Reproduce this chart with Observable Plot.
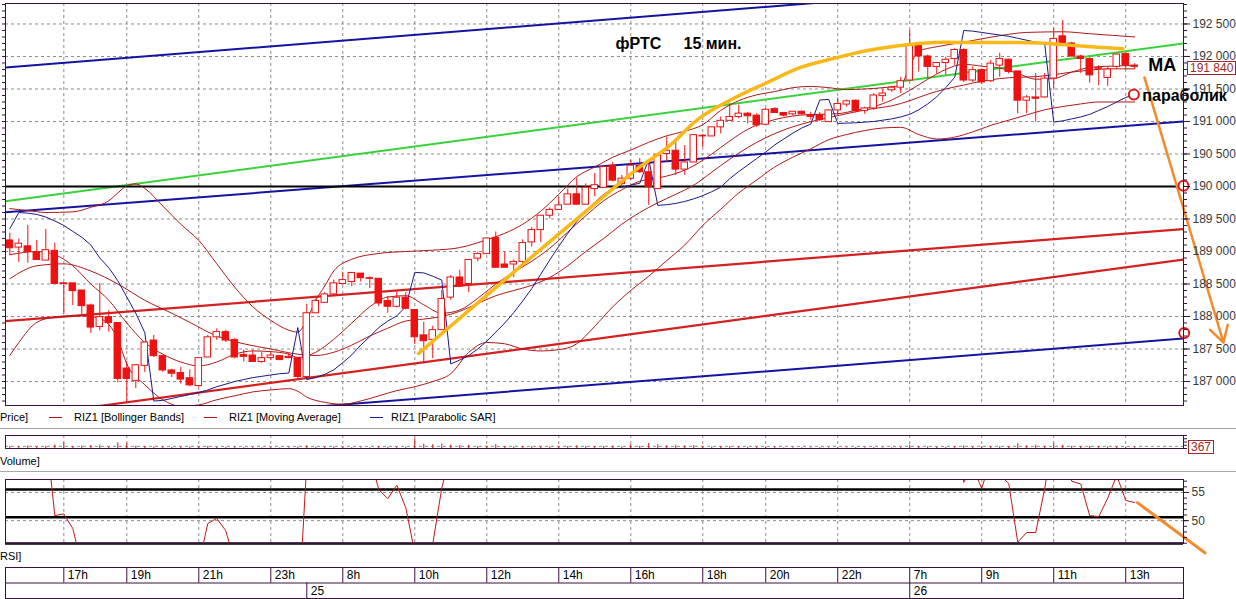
<!DOCTYPE html>
<html><head><meta charset="utf-8">
<script src="https://cdn.jsdelivr.net/npm/d3@7"></script>
<script src="https://cdn.jsdelivr.net/npm/@observablehq/plot@0.6"></script>
<style>
body{margin:0;background:#fff;}
#chart{position:relative;width:1236px;height:599px;overflow:hidden;background:#fff;font-family:"Liberation Sans",Arial,sans-serif;}
#chart svg{position:absolute;left:0;}
.lbl{position:absolute;font-size:11px;color:#000;white-space:nowrap;line-height:14px;}
.dash{position:absolute;height:1px;width:13px;}
.sep{position:absolute;left:0;width:1236px;height:1px;background:#a8a8a8;border-bottom:1px solid #fff;}
.box{position:absolute;font-size:12px;line-height:12px;color:#a02828;border:1px solid #a02828;padding:0 2px;background:#fff;white-space:nowrap;}
</style></head>
<body><div id="chart"></div>
<script>
// ---------- DATA ----------
const opens = [189170,189060,189080,188990,188860,189010,188510,188510,188400,188170,
187840,187990,187900,187200,187010,187240,187630,187390,187170,187130,
187050,186930,187370,187680,187760,187640,187410,187400,187300,187360,
187390,187380,187360,187070,188050,188210,188340,188500,188530,188660,
188590,188580,188240,188150,188290,188100,187710,187640,187790,188290,
188600,188500,188890,188960,189210,188800,188800,188840,189140,189330,
189550,189640,189720,189880,189720,189960,189980,190320,190040,190120,
190320,190220,189960,190500,190550,190260,190370,190780,190770,190910,
191010,191070,191120,191090,190950,191190,191130,191110,191150,191100,
191100,190990,191170,191260,191320,191160,191200,191390,191480,191520,
191630,192180,192000,191840,191900,191960,192100,191630,191790,191620,
191860,191950,191770,191320,191370,191370,191660,192310,192200,192000,
191960,191820,191670,191840,192040,191860];
const highs = [189280,189190,189400,189170,189340,189130,188520,188510,188400,188190,
188510,188090,187900,187310,187250,187600,187710,187390,187190,187220,
187180,187370,187710,187810,187790,187660,187480,187480,187450,187440,
187400,187430,187370,188190,188270,188370,188560,188680,188670,188660,
188610,188580,188310,188400,188370,188100,187910,187850,188400,188630,
188710,188870,188990,189200,189300,188990,188870,189180,189370,189550,
189670,189830,189960,190130,190040,190200,190320,190370,190170,190400,
190430,190400,190480,190760,190710,190630,190790,190800,190910,191070,
191270,191250,191140,191120,191200,191210,191140,191150,191160,191140,
191140,191180,191360,191330,191330,191220,191430,191490,191540,191680,
192400,192200,192020,191910,191990,192120,192120,191840,191810,191940,
192050,191960,191770,191400,191740,191740,192430,192550,192220,192020,
191990,191860,191840,192040,192050,191890];
const lows = [188940,188830,188820,188860,188860,188500,188030,188170,188030,187740,
187780,187760,186980,186680,186890,187140,187370,187140,187060,186960,
186920,186910,187370,187630,187600,187350,187300,187300,187280,187320,
187320,187350,187030,187060,188050,188210,188320,188500,188460,188530,
188430,188150,188050,188130,188100,187570,187270,187350,187790,188250,
188460,188370,188840,188960,188750,188750,188600,188760,189070,189140,
189500,189630,189710,189720,189720,189840,189980,190070,189990,190090,
190200,189710,189960,190370,190170,190170,190370,190600,190770,190810,
191000,191040,190960,190910,190940,191130,191070,191090,191100,191020,
191000,190990,191080,191220,191130,191110,191170,191300,191450,191430,
191620,191760,191660,191730,191710,191860,191600,191600,191570,191600,
191680,191730,191120,191120,190990,191360,191500,192190,191990,191740,
191590,191550,191540,191800,191800,191800];
const closes = [189050,189120,188990,188870,189020,188500,188500,188390,188160,187830,
187990,187900,187040,187040,187250,187600,187390,187170,187120,187030,
186940,187360,187680,187760,187630,187370,187380,187300,187360,187400,
187330,187360,187070,188050,188240,188340,188510,188560,188670,188590,
188580,188200,188150,188290,188120,187680,187620,187790,188270,188600,
188460,188870,188960,189200,188750,188750,188840,189130,189330,189550,
189640,189710,189880,189720,189980,190020,190300,190090,190120,190320,
190220,189990,190480,190550,190260,190370,190790,190770,190910,191010,
191070,191120,191080,190940,191180,191130,191090,191150,191110,191070,
191020,191170,191270,191310,191160,191200,191400,191430,191520,191620,
192190,192000,191840,191900,191950,192100,191630,191790,191600,191890,
191960,191760,191320,191370,191350,191660,192270,192200,192000,191960,
191710,191810,191800,192030,191860,191840];
const volumes = [900,700,1200,800,1000,1600,2600,900,1100,1300,
1500,800,2600,2400,1000,900,700,600,500,600,
700,800,900,500,500,600,400,400,300,300,
300,300,700,1200,600,500,700,500,400,300,
300,700,600,500,600,4500,2000,1800,2000,1600,
1400,1500,900,1000,1800,800,700,900,800,900,
700,800,900,1200,900,800,1000,1100,700,1800,
1000,2400,1700,1200,1500,1200,1400,900,700,900,
800,700,600,700,800,400,300,300,300,300,
400,300,400,300,400,300,400,300,300,400,
1500,900,800,500,500,700,1200,600,900,700,
800,900,2200,1200,1500,1000,2300,1500,1000,900,
1000,800,700,800,600,367];
const rsiValues = [62,63,62,60,66,50.9,51.2,48.6,42,38,
42,40,30,30,34,40,37,34,33,32,
31,42.3,49.5,50.4,48.2,42.5,42.5,41,43,44,
43,43.5,31.7,60.2,64,66,69,70,72,68,
61.5,55.5,53.9,56.3,52.3,44.3,43,45.9,55.8,62,
59,65,67,70,61,61,62,66,69,72,
73,74,75,70,72,73,75,70,70,72,
70,63,70,71,65,67,72,71,73,75,
75,76,73,69,72,71,70,71,70,68,
67,70,72,73,69,70,73,74,75,76,
82,75,70,71,71,73,56.8,59.5,55.7,61,
58.1,56.6,46.2,47.9,47.9,55.7,66,62,57,56.5,
50.9,50.7,54,58,53.6,53.2];
const sarValues = [189350,189600,189590,189570,189530,189470,189400,189310,189220,189100,
188900,188750,188550,188300,188050,187750,186700,186710,186740,186770,
186800,186830,186870,186920,186960,187000,187030,187060,187080,187100,
187120,187130,187830,187030,187060,187110,187180,187290,187410,187560,
187690,187830,187930,188010,188150,188680,188670,188620,188560,187270,
187330,187400,187500,187620,187760,187900,188060,188240,188430,188650,
188870,189080,189280,189460,189620,189760,189880,189970,189990,190020,
190050,190420,189710,189720,189740,189770,189810,189860,189920,189990,
190120,190230,190330,190430,190530,190640,190730,190820,190900,190960,
191330,191340,190970,190975,190980,190990,191000,191020,191040,191070,
191110,191180,191270,191380,191520,191680,192400,192390,192370,192350,
192330,192310,192280,192250,192220,192190,190990,191010,191040,191070,
191110,191170,191230,191300,191370,191410];

// Bollinger bands and moving average, read at sample candles: [candle index, price]
const bbUpper = [[0,189660],[2,189630],[4,189600],[7,189610],[9,189680],[11,189780],[12,189900],[13,190010],[14,190040],[15,189970],[17,189700],[19,189420],[21,189170],[23,188810],[25,188450],[27,188150],[29,187940],[31,187790],[32,187760],[33,187950],[34,188250],[35,188470],[36,188700],[38,188880],[41,188970],[44,189000],[47,189020],[50,189060],[53,189180],[55,189280],[57,189420],[59,189620],[61,189880],[63,190150],[65,190300],[67,190450],[69,190560],[71,190680],[73,190780],[75,190850],[77,190950],[79,191170],[81,191320],[83,191410],[85,191460],[87,191520],[89,191540],[91,191520],[93,191490],[95,191500],[97,191520],[99,191560],[100,191850],[101,192080],[103,192150],[106,192220],[110,192320],[113,192370],[117,192380],[120,192350],[125,192300]];
const bbMiddle = [[0,188580],[3,188780],[6,188810],[9,188700],[12,188500],[15,188250],[18,188050],[20,187910],[23,187700],[26,187580],[29,187500],[32,187420],[34,187400],[36,187450],[38,187560],[40,187700],[42,187820],[44,187930],[46,187960],[48,188000],[50,188080],[52,188200],[54,188320],[56,188400],[58,188480],[60,188600],[62,188780],[64,189000],[66,189200],[68,189420],[70,189600],[72,189750],[74,189880],[76,190020],[78,190220],[80,190420],[82,190600],[84,190750],[86,190870],[88,190960],[90,191030],[92,191090],[94,191150],[96,191200],[98,191240],[100,191320],[102,191420],[104,191500],[106,191560],[108,191620],[110,191660],[112,191680],[114,191690],[116,191720],[118,191760],[120,191790],[122,191810],[125,191810]];
const bbLower = [[0,187400],[1,187600],[3,187910],[5,187990],[8,188010],[10,187970],[12,187650],[13,187270],[15,186950],[17,186720],[19,186620],[21,186640],[23,186720],[25,186780],[27,186840],[29,186870],[31,186890],[32,186850],[33,186760],[35,186680],[37,186650],[39,186700],[41,186780],[43,186860],[45,186920],[47,187000],[49,187120],[51,187450],[53,187600],[55,187580],[57,187500],[59,187470],[61,187490],[63,187580],[65,187850],[67,188150],[69,188400],[71,188620],[73,188860],[75,189100],[77,189400],[79,189650],[81,189900],[83,190100],[85,190300],[87,190450],[89,190580],[91,190720],[93,190800],[95,190860],[97,190900],[99,190910],[101,190800],[103,190730],[105,190760],[107,190840],[109,190940],[111,191020],[113,191100],[115,191180],[117,191230],[119,191270],[121,191300],[123,191300],[125,191300]];
const movingAverage = [[0,188950],[3,189000],[5,188950],[7,188780],[9,188500],[11,188250],[13,187900],[15,187600],[17,187420],[19,187300],[21,187240],[23,187300],[25,187420],[27,187470],[29,187460],[31,187420],[32,187370],[34,187450],[36,187650],[38,187900],[40,188150],[42,188300],[44,188320],[46,188180],[48,188050],[50,188100],[52,188280],[54,188500],[56,188680],[58,188850],[60,189050],[62,189300],[64,189550],[66,189780],[68,189950],[70,190080],[72,190130],[74,190200],[76,190320],[78,190500],[80,190700],[82,190880],[84,190990],[86,191060],[88,191100],[90,191110],[92,191120],[94,191170],[96,191230],[98,191330],[100,191480],[102,191650],[104,191800],[106,191880],[108,191850],[110,191820],[112,191740],[114,191650],[116,191660],[118,191760],[120,191830],[122,191850],[125,191860]];

// drawn trend lines: [candle index, price] end points
const blueUpperChannel = [[-0.48,191831],[130.42,193275]];
const blueMiddleChannel = [[-0.48,189605],[130.42,191000]];
const blueLowerChannel = [[-0.48,186238],[130.42,187661]];
const greenLine = [[-0.48,189774],[130.42,192200]];
const redUpperLine = [[-0.48,187929],[130.42,189346]];
const redLowerLine = [[-0.48,186428],[130.42,188877]];
const keyLevels = [190000];
const yellowArc = [[45.41,187431],[56.74,188769],[67.86,190062],[70.08,190308],[73.08,190600],[76.74,191062],[80.41,191354],[84.19,191600],[87.86,191831],[91.52,191969],[95.3,192092],[98.97,192169],[102.63,192215],[106.41,192215],[110.08,192215],[114.5,192208],[119,192162],[123.7,192118]];
const forecastArrow = [[126.08,191677],[134.86,187600]];
const markedPoints = [[124.9,191415],[130.42,190010],[130.5,187745]];
const titleText = [[67.3,192200,"фРТС\u00a0\u00a0\u00a0\u00a0\u00a015 мин."]];
const maText = [[126.5,191862,"MA"]];
const sarText = [[125.85,191400,"параболик"]];
const rsiArrow = [[125.3,53.2],[132.8,44.3]];
const rsiLevels = [55.54,50.59,45.95];
const rsiGrid = [50,55];

// time axis
const hourIdx = [6,13,21,29,37,45,53,61,69,77,84,92,100,108,116,124];
const hourLabels = ["17h","19h","21h","23h","8h","10h","12h","14h","16h","18h","20h","22h","7h","9h","11h","13h"];
const dayIdx = [33,100];
const dayLabels = ["25","26"];
const priceTicks = d3.range(187000, 192501, 500);
const priceMinorTicks = d3.range(186700, 192801, 100);
const lastPrice = "191 840";
const lastVolume = "367";

// ---------- BUILD ----------
const candles = opens.map((o, i) => ({i, open: o, high: highs[i], low: lows[i], close: closes[i]}));
const vol = volumes.map((v, i) => ({i, v}));
const rsi = rsiValues.map((v, i) => ({i, v}));
const sar = sarValues.map((v, i) => ({i, v}));
const hours = hourIdx.map((i, k) => ({i, label: hourLabels[k]}));
const days = dayIdx.map((i, k) => ({i, label: dayLabels[k]}));

const FRAME = "#3a1040", GRID = "#8c8c8c", RED = "#ee1111", THIN = "#b01818",
      NAVY = "#1a1a8c", BLUE = "#1414a0", GREEN = "#3ad23a", CHRED = "#d42020",
      YELLOW = "#f8b818", ORANGE = "#f28a2e";
const xDomain = [-0.48, 130.42];
const common = {width: 1236, marginLeft: 5, marginRight: 53};
const style = {fontFamily: "Liberation Sans, Arial, sans-serif", fontSize: "12px", background: "transparent", overflow: "visible"};
const fmt = d => d3.format(",")(d).replace(/,/g, " ");
const px = d => d[0], py = d => d[1];
const dashed = {stroke: GRID, strokeDasharray: "3,3", strokeWidth: 1};

const chart = document.getElementById("chart");
function place(svg, top) { svg.style.top = top + "px"; chart.appendChild(svg); }

const main = Plot.plot({
  ...common, height: 410, marginTop: 3, marginBottom: 5, style,
  x: {domain: xDomain, axis: null, label: null},
  y: {domain: [186631, 192815], axis: null, label: null},
  marks: [
    Plot.ruleY(priceTicks, dashed),
    Plot.ruleX(hourIdx, dashed),
    Plot.line(blueUpperChannel, {x: px, y: py, stroke: BLUE, strokeWidth: 2, clip: true}),
    Plot.line(blueMiddleChannel, {x: px, y: py, stroke: BLUE, strokeWidth: 2, clip: true}),
    Plot.line(blueLowerChannel, {x: px, y: py, stroke: BLUE, strokeWidth: 2, clip: true}),
    Plot.line(greenLine, {x: px, y: py, stroke: GREEN, strokeWidth: 2, clip: true}),
    Plot.line(redUpperLine, {x: px, y: py, stroke: CHRED, strokeWidth: 2.2, clip: true}),
    Plot.line(redLowerLine, {x: px, y: py, stroke: CHRED, strokeWidth: 2.2, clip: true}),
    Plot.ruleY(keyLevels, {stroke: "black", strokeWidth: 2}),
    Plot.line(bbUpper, {x: px, y: py, stroke: THIN, strokeWidth: 1, curve: "monotone-x", clip: true}),
    Plot.line(bbMiddle, {x: px, y: py, stroke: THIN, strokeWidth: 1, curve: "monotone-x", clip: true}),
    Plot.line(bbLower, {x: px, y: py, stroke: THIN, strokeWidth: 1, curve: "monotone-x", clip: true}),
    Plot.line(movingAverage, {x: px, y: py, stroke: THIN, strokeWidth: 1, curve: "monotone-x", clip: true}),
    Plot.line(sar, {x: "i", y: "v", stroke: NAVY, strokeWidth: 1, clip: true}),
    Plot.ruleX(candles, {x: "i", y1: "low", y2: "high", stroke: RED, strokeWidth: 1}),
    Plot.rect(candles, {x1: d => d.i - 0.36, x2: d => d.i + 0.36, y1: "open", y2: "close",
      fill: d => d.close > d.open ? "white" : RED, stroke: RED, strokeWidth: 1}),
    Plot.line(yellowArc, {x: px, y: py, stroke: YELLOW, strokeWidth: 3.5, curve: "catmull-rom"}),
    Plot.arrow([forecastArrow], {x1: d => d[0][0], y1: d => d[0][1], x2: d => d[1][0], y2: d => d[1][1],
      stroke: ORANGE, strokeWidth: 2.5, headLength: 11}),
    Plot.dot(markedPoints, {x: px, y: py, r: 5, stroke: "#e01818", strokeWidth: 2, fill: "white"}),
    Plot.axisY(priceMinorTicks, {anchor: "right", tickSize: 3, tickFormat: () => "", stroke: FRAME, label: null}),
    Plot.axisY(priceMinorTicks, {anchor: "left", tickSize: 3, tickFormat: () => "", stroke: FRAME, label: null}),
    Plot.axisY(priceTicks, {anchor: "right", tickSize: 6, tickPadding: 3, tickFormat: fmt, fontSize: 12, fill: "#3a3a3a", stroke: FRAME, label: null}),
    Plot.text(titleText, {x: px, y: py, text: d => d[2], textAnchor: "start", fontSize: 16, fontWeight: "bold", fill: "black"}),
    Plot.text(maText, {x: px, y: py, text: d => d[2], textAnchor: "start", fontSize: 18, fontWeight: "bold", fill: "black"}),
    Plot.text(sarText, {x: px, y: py, text: d => d[2], textAnchor: "start", fontSize: 16, fontWeight: "bold", fill: "black"}),
    Plot.frame({stroke: FRAME})
  ]
});
place(main, 0);

const volumePlot = Plot.plot({
  ...common, height: 22, marginTop: 5, marginBottom: 4, style,
  x: {domain: xDomain, axis: null, label: null},
  y: {domain: [0, 6000], axis: null, label: null},
  marks: [
    Plot.ruleX(hourIdx, dashed),
    Plot.ruleY([1000], dashed),
    Plot.ruleX(vol, {x: "i", y1: 0, y2: "v", stroke: "#c01818", strokeWidth: 1}),
    Plot.axisY([0, 1500, 3000, 4500, 6000], {anchor: "right", tickSize: 3, tickFormat: () => "", stroke: FRAME, label: null}),
    Plot.frame({stroke: FRAME})
  ]
});
place(volumePlot, 430);

const rsiPlot = Plot.plot({
  ...common, height: 85, marginTop: 5, marginBottom: 16, style,
  x: {domain: xDomain, axis: null, label: null},
  y: {domain: [45.95, 57.3], axis: null, label: null},
  marks: [
    Plot.ruleX(hourIdx, dashed),
    Plot.ruleY(rsiGrid, dashed),
    Plot.ruleY(rsiLevels, {stroke: "black", strokeWidth: 2.5}),
    Plot.line(rsi, {x: "i", y: "v", stroke: "#c01818", strokeWidth: 1, clip: true}),
    Plot.line(rsiArrow, {x: px, y: py, stroke: ORANGE, strokeWidth: 3}),
    Plot.axisY(d3.range(46, 58), {anchor: "right", tickSize: 3, tickFormat: () => "", stroke: FRAME, label: null}),
    Plot.axisY(rsiGrid, {anchor: "right", tickSize: 5, tickPadding: 3, fontSize: 12, fill: "#3a3a3a", stroke: FRAME, label: null}),
    Plot.frame({stroke: FRAME})
  ]
});
place(rsiPlot, 474);

const timePlot = Plot.plot({
  ...common, height: 34, marginTop: 2, marginBottom: 1, style,
  x: {domain: xDomain, axis: null, label: null},
  y: {domain: [0, 2], reverse: true, axis: null, label: null},
  marks: [
    Plot.ruleY([1], {stroke: FRAME}),
    Plot.ruleX(hours, {x: "i", y1: 0, y2: 1, stroke: FRAME}),
    Plot.text(hours, {x: "i", y: 0.5, text: "label", textAnchor: "start", dx: 4, fontSize: 12, fill: "black"}),
    Plot.ruleX(days, {x: "i", y1: 1, y2: 2, stroke: FRAME}),
    Plot.text(days, {x: "i", y: 1.5, text: "label", textAnchor: "start", dx: 4, fontSize: 12, fill: "black"}),
    Plot.frame({stroke: FRAME})
  ]
});
place(timePlot, 565);

// ---------- HTML text & decorations ----------
function add(html) { chart.insertAdjacentHTML("beforeend", html); }
add(`<div class="lbl" style="left:0;top:410px">Price]</div>`);
add(`<div class="dash" style="left:49px;top:417px;background:${THIN}"></div>`);
add(`<div class="lbl" style="left:74px;top:410px">RIZ1 [Bollinger Bands]</div>`);
add(`<div class="dash" style="left:204px;top:417px;background:${THIN}"></div>`);
add(`<div class="lbl" style="left:229px;top:410px">RIZ1 [Moving Average]</div>`);
add(`<div class="dash" style="left:370px;top:417px;background:${NAVY}"></div>`);
add(`<div class="lbl" style="left:391px;top:410px">RIZ1 [Parabolic SAR]</div>`);
add(`<div class="sep" style="top:428px"></div>`);
add(`<div class="lbl" style="left:0;top:454px">Volume]</div>`);
add(`<div class="sep" style="top:471px"></div>`);
add(`<div class="lbl" style="left:0;top:549px">RSI]</div>`);
add(`<div class="box" style="left:1187px;top:61px">${lastPrice}</div>`);
add(`<div class="box" style="left:1188px;top:440px">${lastVolume}</div>`);
</script>
</body></html>
